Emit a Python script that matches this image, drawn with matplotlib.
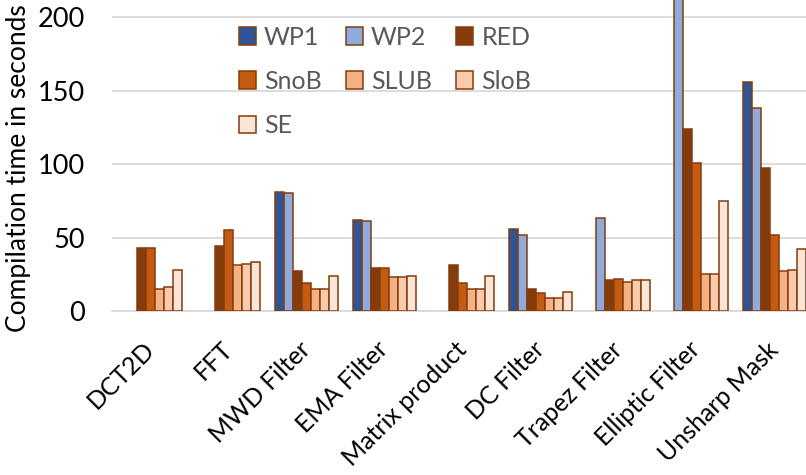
import numpy as np
import matplotlib
matplotlib.use("Agg")
from matplotlib import pyplot as plt

# Данные (nan = нет столбца)
nan = np.nan
categories = ['DCT2D', 'FFT', 'MWD Filter', 'EMA Filter', 'Matrix product',
              'DC Filter', 'Trapez Filter', 'Elliptic Filter', 'Unsharp Mask']
series = ['WP1', 'WP2', 'RED', 'SnoB', 'SLUB', 'SloB', 'SE']
wp1 = [nan, nan, 81, 62, nan, 56, nan, nan, 156]
wp2 = [nan, nan, 80, 61, nan, 52, 63, 215, 138]
red = [43, 44, 27, 29, 31, 15, 21, 124, 97]
snob = [43, 55, 19, 29, 19, 12, 22, 101, 52]
slub = [15, 31, 15, 23, 15, 9, 20, 25, 27]
slob = [16, 32, 15, 23, 15, 9, 21, 25, 28]
se = [28, 33, 24, 24, 24, 13, 21, 75, 42]
values = [wp1, wp2, red, snob, slub, slob, se]

colors = ['#2F5597', '#8FAADC', '#843C0C', '#C55A11', '#F4B183', '#F8CBAD', '#FBE5D6']

plt.rcParams['font.family'] = ['Lato', 'DejaVu Sans']

fig = plt.figure(figsize=(8.06, 4.75), dpi=100)
ax = fig.add_axes([111.5 / 806, 164 / 475, 702 / 806, 311 / 475])

x = np.arange(len(categories))
w = 9.05 / 78
bars = []
for i, (name, vals) in enumerate(zip(series, values)):
    b = ax.bar(x + (i - 3) * w, vals, width=w, color=colors[i],
               edgecolor='#843C0C', linewidth=1.1, label=name, zorder=3)
    bars.append(b)

ax.set_xlim(-0.5, len(categories) - 0.5)
ax.set_ylim(0, 211.6)
ax.set_yticks([0, 50, 100, 150, 200])
ax.yaxis.grid(True, color='#D9D9D9', linewidth=1.3, zorder=0)
ax.tick_params(axis='y', length=0, pad=19, labelsize=19.5, labelcolor='black')
ax.tick_params(axis='x', length=0, pad=25, labelsize=18)
ax.set_xticks(x)
ax.set_xticklabels(categories, rotation=45, ha='right', va='center',
                   rotation_mode='anchor')
for s in ['top', 'right', 'left']:
    ax.spines[s].set_visible(False)
ax.spines['bottom'].set_color('#D9D9D9')
ax.spines['bottom'].set_linewidth(1.3)
ax.set_ylabel('Compilation time in seconds', fontsize=19)
ax.yaxis.set_label_coords(-0.115, 0.46)

# порядок для заполнения легенды по строкам
order = [0, 3, 6, 1, 4, 2, 5]
leg = ax.legend([bars[k] for k in order], [series[k] for k in order],
                ncol=3, loc='upper left', bbox_to_anchor=(0.149, 0.99),
                frameon=False, fontsize=18, handlelength=0.7, handleheight=0.7,
                columnspacing=0.95, labelspacing=0.85, handletextpad=0.32)
for t in leg.get_texts():
    t.set_color('#595959')

fig.savefig('out.png', dpi=100)
